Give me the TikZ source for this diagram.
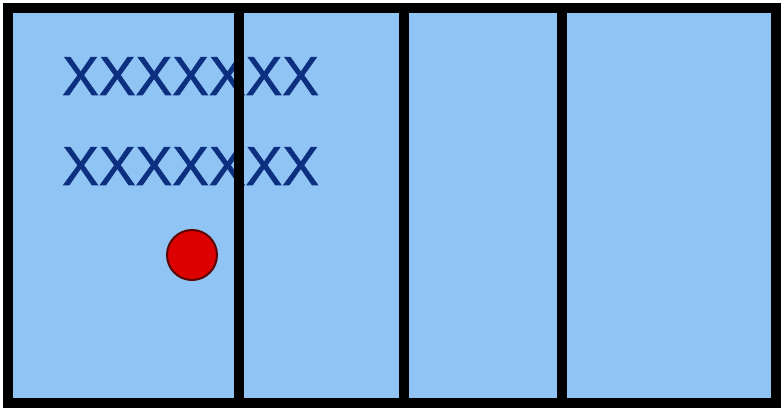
\documentclass[tikz,border=0pt]{standalone}
\usepackage{fontspec}
\setmainfont{Liberation Sans}
\newfontfamily\xfont[FakeBold=1.2]{Liberation Sans}
\definecolor{panelblue}{HTML}{90C4F4}
\definecolor{xblue}{HTML}{0D2F80}
\definecolor{dotred}{HTML}{DD0000}
\definecolor{dotedge}{HTML}{5A0505}
\begin{document}
\begin{tikzpicture}[x=1pt,y=-1pt,
  frame/.style={draw=black,line width=10pt,fill=panelblue},
  divider/.style={draw=black,line width=10pt},
  xrow/.style={inner sep=0pt,text=xblue,font=\xfont\fontsize{55}{55}\selectfont,anchor=base west},
  dot/.style={circle,draw=dotedge,line width=2pt,fill=dotred,minimum size=50pt,inner sep=0pt}]
\useasboundingbox (0,0) rectangle (784,411);
\fill[white] (0,0) rectangle (784,411);
\draw[frame] (8,8) rectangle (776,403);
\node[xrow] (row1) at (62,95) {XXXXXXX};
\node[xrow] (row2) at (62,185) {XXXXXXX};
\node[dot] (ball) at (192,255) {};
\draw[divider] (239,8) -- (239,403);
\draw[divider] (404,8) -- (404,403);
\draw[divider] (562,8) -- (562,403);
\end{tikzpicture}
\end{document}
